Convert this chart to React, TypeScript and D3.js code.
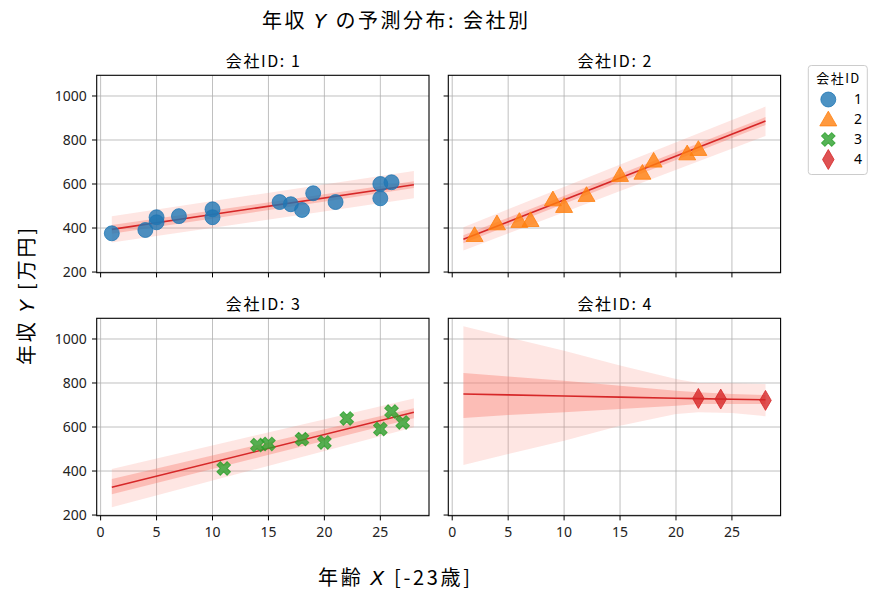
import * as d3 from 'd3';

const FONT = '"Noto Sans CJK JP", "Noto Sans", sans-serif';
const TICK_FONT = '"Noto Sans", "Noto Sans CJK JP", sans-serif';

// observed data per company (age offset X, annual income Y)
const companyIds = [1, 2, 3, 4];
const colors = ['#1f77b4', '#ff7f0e', '#2ca02c', '#d62728'];

const x1 = [1, 4, 5, 5, 7, 10, 10, 16, 17, 18, 19, 21, 25, 25, 26];
const y1 = [376, 391, 449, 426, 454, 485, 449, 518, 508, 482, 558, 518, 600, 535, 608];
const x2 = [2, 4, 6, 7, 9, 10, 12, 15, 17, 18, 21, 22];
const y2 = [368, 421, 432, 436, 530, 500, 550, 641, 651, 706, 739, 759];
const x3 = [11, 14, 15, 18, 20, 22, 25, 26, 27];
const y3 = [412, 518, 523, 545, 530, 639, 591, 670, 621];
const x4 = [22, 24, 28];
const y4 = [730, 727, 721];

// posterior predictions on the X grid
const gridA = [1, 28];
const mean1 = [394, 597];
const inLo1 = [374, 582];
const inHi1 = [414, 612];
const outLo1 = [334, 535];
const outHi1 = [454, 659];

const mean2 = [349, 886];
const inLo2 = [331, 868];
const inHi2 = [367, 904];
const outLo2 = [298, 818];
const outHi2 = [404, 952];

const mean3 = [326, 667];
const inLo3 = [295, 640];
const inHi3 = [364, 685];
const outLo3 = [235, 599];
const outHi3 = [409, 730];

const gridB = [1, 5, 10, 15, 20, 22, 25, 28];
const mean4 = [750, 746, 741, 736, 731, 729, 726, 724];
const inLo4 = [641, 655, 667, 682, 697, 705, 705, 705];
const inHi4 = [845, 830, 810, 788, 765, 758, 750, 745];
const outLo4 = [427, 477, 538, 606, 659, 667, 664, 649];
const outHi4 = [1058, 1008, 947, 879, 818, 800, 799, 795];

const xTicks = [0, 5, 10, 15, 20, 25];
const yTicks = [200, 400, 600, 800, 1000];

const panels = [
  { xs: x1, ys: y1, grid: gridA, mean: mean1, inLo: inLo1, inHi: inHi1, outLo: outLo1, outHi: outHi1 },
  { xs: x2, ys: y2, grid: gridA, mean: mean2, inLo: inLo2, inHi: inHi2, outLo: outLo2, outHi: outHi2 },
  { xs: x3, ys: y3, grid: gridA, mean: mean3, inLo: inLo3, inHi: inHi3, outLo: outLo3, outHi: outHi3 },
  { xs: x4, ys: y4, grid: gridB, mean: mean4, inLo: inLo4, inHi: inHi4, outLo: outLo4, outHi: outHi4 },
];

const W = 877;
const H = 602;
const lefts = [96.7, 448.3];
const tops = [75.3, 318.3];
const pw = 332.3;
const ph = 197.4;

const xScale = d3.scaleLinear().domain([-0.35, 29.35]).range([0, pw]);
const yScale = d3.scaleLinear().domain([197, 1094]).range([ph, 0]);

const markerPaths = [
  d3.symbol(d3.symbolCircle, 175)()!,
  d3.symbol(d3.symbolTriangle, 125)()!,
  d3.symbol(d3.symbolCross, 115)()!,
  d3.symbol(d3.symbolDiamond, 115)()!,
];
const markerRotate = [0, 0, 45, 0];

function Marker({ k, x, y }: { k: number; x: number; y: number }) {
  const dy = k === 1 ? 1.5 : 0;
  return (
    <path
      d={markerPaths[k]}
      transform={`translate(${x},${y + dy}) rotate(${markerRotate[k]})`}
      fill={colors[k]}
      fillOpacity={0.8}
      stroke={colors[k]}
      strokeOpacity={0.8}
      strokeWidth={1}
    />
  );
}

function Panel({ k }: { k: number }) {
  const p = panels[k];
  const col = k % 2;
  const row = Math.floor(k / 2);
  const idx = d3.range(p.grid.length);
  const band = (lo: number[], hi: number[]) =>
    d3
      .area<number>()
      .x((i) => xScale(p.grid[i]))
      .y0((i) => yScale(lo[i]))
      .y1((i) => yScale(hi[i]))(idx)!;
  const line = d3
    .line<number>()
    .x((i) => xScale(p.grid[i]))
    .y((i) => yScale(p.mean[i]))(idx)!;

  return (
    <g transform={`translate(${lefts[col]},${tops[row]})`}>
      <defs>
        <clipPath id={`clip${k}`}>
          <rect width={pw} height={ph} />
        </clipPath>
      </defs>
      <g clipPath={`url(#clip${k})`}>
        {xTicks.map((t) => (
          <line key={`gx${t}`} x1={xScale(t)} x2={xScale(t)} y1={0} y2={ph} stroke="#b0b0b0" strokeWidth={0.8} />
        ))}
        {yTicks.map((t) => (
          <line key={`gy${t}`} x1={0} x2={pw} y1={yScale(t)} y2={yScale(t)} stroke="#b0b0b0" strokeWidth={0.8} />
        ))}
        <path d={band(p.outLo, p.outHi)} fill="#fa8072" fillOpacity={0.2} />
        <path d={band(p.inLo, p.inHi)} fill="#fa8072" fillOpacity={0.4} />
        <path d={line} fill="none" stroke="#d62728" strokeWidth={1.6} />
        {p.xs.map((xv, i) => (
          <Marker key={i} k={k} x={xScale(xv)} y={yScale(p.ys[i])} />
        ))}
      </g>
      <rect width={pw} height={ph} fill="none" stroke="#000" strokeWidth={1.1} />
      {xTicks.map((t) => (
        <g key={`xt${t}`} transform={`translate(${xScale(t)},${ph})`}>
          <line y2={4.7} stroke="#000" strokeWidth={1} />
          {row === 1 && (
            <text y={21} textAnchor="middle" fontSize={14} fontFamily={TICK_FONT} fill="#222">
              {t}
            </text>
          )}
        </g>
      ))}
      {yTicks.map((t) => (
        <g key={`yt${t}`} transform={`translate(0,${yScale(t)})`}>
          <line x2={-4.7} stroke="#000" strokeWidth={1} />
          {col === 0 && (
            <text x={-10} dy="0.35em" textAnchor="end" fontSize={14} fontFamily={TICK_FONT} fill="#222">
              {t}
            </text>
          )}
        </g>
      ))}
      <text x={pw / 2} y={-8} textAnchor="middle" fontSize={16} fill="#000" textLength={74} lengthAdjust="spacing">
        会社ID: {companyIds[k]}
      </text>
    </g>
  );
}

function Legend() {
  const lx = 808.3;
  const ly = 65.5;
  return (
    <g>
      <rect x={lx} y={ly} width={59} height={109} rx={3} fill="#fff" fillOpacity={0.8} stroke="#cccccc" strokeWidth={1} />
      <text x={lx + 29.5} y={ly + 17} textAnchor="middle" fontSize={13} fill="#000" textLength={43} lengthAdjust="spacing">
        会社ID
      </text>
      {companyIds.map((id, i) => (
        <g key={id}>
          <Marker k={i} x={828.3} y={99.5 + i * 20} />
          <text x={858} y={99.5 + i * 20} dy="0.35em" textAnchor="middle" fontSize={14} fontFamily={TICK_FONT} fill="#000">
            {id}
          </text>
        </g>
      ))}
    </g>
  );
}

export default function App() {
  return (
    <svg
      width={W}
      height={H}
      style={{ position: 'absolute', left: 0, top: 0, display: 'block', fontFamily: FONT, background: '#fff' }}
    >
      <text x={395} y={28} textAnchor="middle" fontSize={20} fill="#000" textLength={266} lengthAdjust="spacing">
        年収 <tspan fontStyle="italic" fontFamily="'DejaVu Sans'">Y</tspan> の予測分布: 会社別
      </text>
      {panels.map((_, k) => (
        <Panel key={k} k={k} />
      ))}
      <Legend />
      <text
        transform="translate(34,296.5) rotate(-90)"
        textAnchor="middle"
        fontSize={20}
        fill="#000"
        textLength={137}
        lengthAdjust="spacing"
      >
        年収 <tspan fontStyle="italic" fontFamily="'DejaVu Sans'">Y</tspan> [万円]
      </text>
      <text x={394} y={585} textAnchor="middle" fontSize={20} fill="#000" textLength={152} lengthAdjust="spacing">
        年齢 <tspan fontStyle="italic" fontFamily="'DejaVu Sans'">X</tspan> [-23歳]
      </text>
    </svg>
  );
}
